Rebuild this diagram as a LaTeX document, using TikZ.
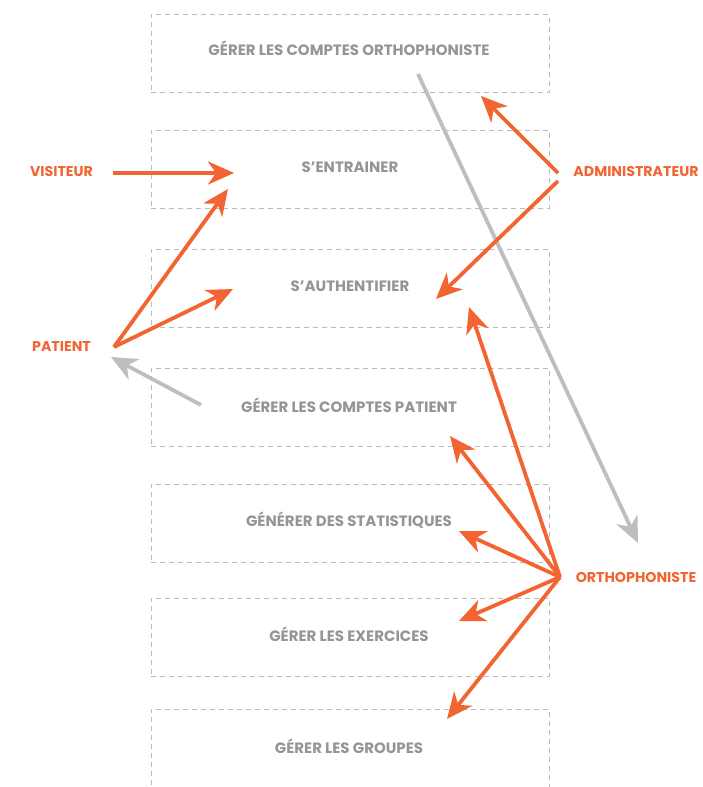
\documentclass[tikz,border=0pt]{standalone}
\usepackage{fontspec}
\setmainfont{Poppins}
\usetikzlibrary{arrows.meta}
\definecolor{org}{HTML}{F26431}
\definecolor{txtgray}{HTML}{939598}
\definecolor{lngray}{HTML}{BCBEC0}
\definecolor{boxgray}{HTML}{BBBBBB}
\tikzset{
  usecase/.style={draw=boxgray, line width=0.9pt, dash pattern=on 5pt off 4pt, minimum width=398pt, minimum height=78pt, inner sep=0pt},
  uctext/.style={text=txtgray, font=\bfseries\fontsize{15}{16}\selectfont},
  actor/.style={text=org, font=\bfseries\fontsize{14.2}{15}\selectfont, inner sep=0pt},
  orgarrow/.style={draw=org, line width=3.8pt, -{Stealth[length=26pt,width=23pt,inset=8pt]}},
  grayarrow/.style={draw=lngray, line width=3.8pt, -{Stealth[length=26pt,width=23pt,inset=8pt]}},
}
\begin{document}
\begin{tikzpicture}[x=1pt,y=-1pt]
\useasboundingbox (0,0) rectangle (703,787);
% use case boxes
\node[usecase] (b1) at (350,53.5) {};
\node[usecase] (b2) at (350,169) {};
\node[usecase] (b3) at (350,288) {};
\node[usecase] (b4) at (350,407) {};
\node[usecase] (b5) at (350,523) {};
\node[usecase] (b6) at (350,637) {};
\node[usecase] (b7) at (350,748) {};
\node[uctext] (t1) at (349,48.5) {GÉRER LES COMPTES ORTHOPHONISTE};
\node[uctext] (t2) at (350,167.5) {S’ENTRAINER};
\node[uctext] (t3) at (350,286.5) {S’AUTHENTIFIER};
\node[uctext] (t4) at (349,405.5) {GÉRER LES COMPTES PATIENT};
\node[uctext] (t5) at (349,520.5) {GÉNÉRER DES STATISTIQUES};
\node[uctext] (t6) at (349,634.5) {GÉRER LES EXERCICES};
\node[uctext] (t7) at (349,746.5) {GÉRER LES GROUPES};
% actors
\node[actor] (vis) at (61.5,171) {VISITEUR};
\node[actor] (adm) at (636,171) {ADMINISTRATEUR};
\node[actor] (pat) at (61.5,347) {PATIENT};
\node[actor] (ort) at (636,577) {ORTHOPHONISTE};
% endpoints
\coordinate (visS) at (113,173);
\coordinate (visT) at (234,173);
\coordinate (patS) at (114,347);
\coordinate (patT1) at (228,189);
\coordinate (patT2) at (233,289);
\coordinate (patG) at (201,405);
\coordinate (patGT) at (111,357);
\coordinate (admS1) at (558,173);
\coordinate (admT1) at (481,96);
\coordinate (admS2) at (558,181);
\coordinate (admT2) at (436,299);
\coordinate (cmpS) at (418,74);
\coordinate (cmpT) at (638,543);
\coordinate (ortS) at (560,577);
\coordinate (ortT3) at (469,307);
\coordinate (ortT4) at (450,436);
\coordinate (ortT5) at (459,531);
\coordinate (ortT6) at (459,621);
\coordinate (ortT7) at (447,719);
% connectors
\draw[grayarrow] (cmpS) -- (cmpT);
\draw[grayarrow] (patG) -- (patGT);
\draw[orgarrow] (visS) -- (visT);
\draw[orgarrow] (patS) -- (patT1);
\draw[orgarrow] (patS) -- (patT2);
\draw[orgarrow] (admS1) -- (admT1);
\draw[orgarrow] (admS2) -- (admT2);
\draw[orgarrow] (ortS) -- (ortT3);
\draw[orgarrow] (ortS) -- (ortT4);
\draw[orgarrow] (ortS) -- (ortT5);
\draw[orgarrow] (ortS) -- (ortT6);
\draw[orgarrow] (ortS) -- (ortT7);
\end{tikzpicture}
\end{document}
